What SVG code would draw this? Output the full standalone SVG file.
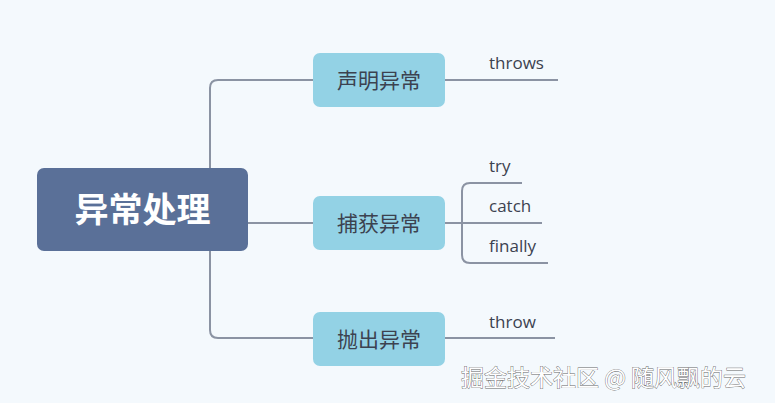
<svg xmlns="http://www.w3.org/2000/svg" width="775" height="403" viewBox="0 0 775 403">
<style>
.ln{fill:none;stroke:#8b93a3;stroke-width:2}
.sub{fill:#93d2e5}
.st{font-family:"Noto Sans CJK SC","Noto Sans",sans-serif;font-size:21px;fill:#3c4250;text-anchor:middle}
.lf{font-family:"Open Sans","Noto Sans",sans-serif;font-size:17px;fill:#3c4250}
</style>
<rect width="775" height="403" fill="#f4f9fd"/>
<g id="connectors">
<path class="ln" d="M313 80H218Q210 80 210 88V330Q210 338 218 338H313"/>
<path class="ln" d="M248 223H313"/>
<path class="ln" d="M445 80H558"/>
<path class="ln" d="M445 223H462"/>
<path class="ln" d="M522 183H470Q462 183 462 191V255Q462 263 470 263H548"/>
<path class="ln" d="M462 223H542"/>
<path class="ln" d="M445 338H555"/>
</g>
<g id="root"><rect x="37" y="168" width="211" height="83" rx="7" fill="#5a7098"/>
<text x="142.5" y="222" font-family="Noto Sans CJK SC,sans-serif" font-weight="bold" font-size="34" fill="#fff" text-anchor="middle">异常处理</text></g>
<g id="n1"><rect class="sub" x="313" y="53" width="132" height="54" rx="7"/><text class="st" x="379" y="88">声明异常</text></g>
<g id="n2"><rect class="sub" x="313" y="196" width="132" height="54" rx="7"/><text class="st" x="379" y="231">捕获异常</text></g>
<g id="n3"><rect class="sub" x="313" y="312" width="132" height="54" rx="7"/><text class="st" x="379" y="347">抛出异常</text></g>
<g id="l1"><text class="lf" x="489" y="69">throws</text></g>
<g id="l2"><text class="lf" x="489" y="172">try</text></g>
<g id="l3"><text class="lf" x="489" y="212">catch</text></g>
<g id="l4"><text class="lf" x="489" y="252">finally</text></g>
<g id="l5"><text class="lf" x="489" y="328">throw</text></g>
<text x="461" y="386" font-family="Noto Sans CJK SC,sans-serif" font-size="23" fill="#fff" stroke="#666" stroke-width="0.8" paint-order="stroke">掘金技术社区 @ 随风飘的云</text>
</svg>
